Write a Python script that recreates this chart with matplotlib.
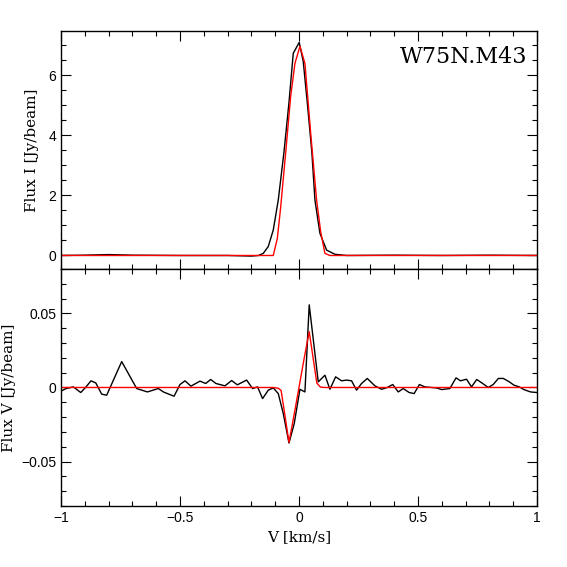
import numpy as np
import matplotlib
matplotlib.use('Agg')
import matplotlib.pyplot as plt
from matplotlib.ticker import MultipleLocator, FuncFormatter

# Stokes I spectrum (observed) and model, velocity in km/s
v_i_obs = [-1.0, -0.9, -0.8, -0.7, -0.5, -0.3, -0.2, -0.17, -0.15, -0.129, -0.108,
           -0.087, -0.063, -0.042, -0.024, 0.001, 0.018, 0.036, 0.054, 0.067, 0.088,
           0.116, 0.151, 0.2, 0.4, 0.6, 0.8, 1.0]
flux_i_obs = [0.0, 0.01, 0.03, 0.01, 0.0, 0.0, -0.02, 0.0, 0.07, 0.3, 0.85,
              1.85, 3.45, 5.1, 6.74, 7.1, 6.46, 5.0, 3.45, 1.85, 0.74,
              0.18, 0.04, 0.0, 0.01, 0.0, 0.01, 0.0]
v_i_mod = [-1.0, -0.108, -0.091, -0.077, -0.055, -0.035, -0.017, 0.004, 0.025,
           0.05, 0.074, 0.091, 0.109, 0.13, 1.0]
flux_i_mod = [0.0, 0.0, 0.57, 1.6, 3.5, 5.3, 6.4, 6.97, 6.4,
              4.0, 1.85, 0.8, 0.07, 0.0, 0.0]

# Stokes V spectrum (observed) and model
v_v_obs = [-1.0, -0.979, -0.948, -0.917, -0.895, -0.874, -0.854, -0.829, -0.808,
           -0.745, -0.682, -0.637, -0.591, -0.57, -0.525, -0.5, -0.479, -0.454,
           -0.416, -0.392, -0.371, -0.349, -0.311, -0.283, -0.259, -0.22, -0.195,
           -0.174, -0.153, -0.129, -0.108, -0.087, -0.066, -0.042, -0.02, 0.004,
           0.025, 0.043, 0.081, 0.109, 0.13, 0.154, 0.179, 0.2, 0.221, 0.242,
           0.263, 0.287, 0.319, 0.347, 0.371, 0.394, 0.417, 0.438, 0.463, 0.484,
           0.506, 0.529, 0.578, 0.6, 0.634, 0.66, 0.679, 0.704, 0.725, 0.747,
           0.772, 0.795, 0.816, 0.838, 0.859, 0.884, 0.903, 0.926, 0.945, 0.973, 1.0]
flux_v_obs = [-0.0025, -0.0007, 0.0004, -0.0034, 0.0004, 0.0045, 0.0031, -0.0045, -0.0052,
              0.0175, -0.0007, -0.003, -0.0007, -0.003, -0.0059, 0.002, 0.0045, 0.0009,
              0.0043, 0.0027, 0.0054, 0.0027, 0.0011, 0.0047, 0.0018, 0.005, -0.0007,
              0.0004, -0.0075, -0.0018, -0.0003, -0.0041, -0.0176, -0.0375, -0.0244, -0.0012,
              -0.003, 0.0558, 0.0038, 0.0083, -0.0012, 0.0072, 0.0045, 0.005, 0.0045, -0.0018,
              0.0027, 0.0061, 0.0011, -0.0012, 0.0, 0.002, -0.003, -0.0007, -0.0034, -0.0041,
              0.002, 0.0004, -0.0003, -0.0014, -0.0007, 0.0065, 0.0045, 0.0056, 0.0004, 0.0054,
              0.0027, 0.0, 0.002, 0.0061, 0.0061, 0.0038, 0.0016, 0.0004, -0.0014, -0.003, -0.0034]
v_v_mod = [-1.0, -0.108, -0.087, -0.075, -0.042, -0.02, 0.0, 0.021, 0.043,
           0.075, 0.09, 0.107, 1.0]
flux_v_mod = [0.0, 0.0, -0.0005, -0.002, -0.037, -0.018, 0.0, 0.019, 0.0377,
              0.003, 0.0003, 0.0, 0.0]

title = 'W75N.M43'

fig = plt.figure(figsize=(5.67, 5.67), dpi=100)
ax1 = fig.add_axes([0.1076, 0.5256, 0.8394, 0.4197])
ax2 = fig.add_axes([0.1076, 0.1076, 0.8394, 0.4180], sharex=ax1)

ax1.plot(v_i_obs, flux_i_obs, color='black', lw=1.0)
ax1.plot(v_i_mod, flux_i_mod, color='red', lw=1.0)
ax2.plot(v_v_obs, flux_v_obs, color='black', lw=1.0)
ax2.plot(v_v_mod, flux_v_mod, color='red', lw=1.0)

ax1.set_xlim(-1, 1)
ax1.set_ylim(-0.45, 7.48)
ax2.set_ylim(-0.08, 0.08)

fmt = FuncFormatter(lambda x, pos: ('%g' % x).replace('-', '\u2212'))
for ax in (ax1, ax2):
    ax.xaxis.set_major_locator(MultipleLocator(0.5))
    ax.xaxis.set_minor_locator(MultipleLocator(0.1))
    ax.tick_params(which='both', direction='in', top=True, right=True,
                   labelsize=10, width=0.8)
    ax.tick_params(which='major', length=7)
    ax.tick_params(which='minor', length=3.5)
    ax.yaxis.set_major_formatter(fmt)
    ax.xaxis.set_major_formatter(fmt)
    for s in ax.spines.values():
        s.set_linewidth(1.0)
    for lab in ax.get_xticklabels() + ax.get_yticklabels():
        lab.set_family('Liberation Sans')

ax1.yaxis.set_major_locator(MultipleLocator(2))
ax1.yaxis.set_minor_locator(MultipleLocator(0.5))
ax2.yaxis.set_major_locator(MultipleLocator(0.05))
ax2.yaxis.set_minor_locator(MultipleLocator(0.01))
ax1.tick_params(labelbottom=False)

ax1.set_ylabel('Flux I [Jy/beam]', family='DejaVu Serif', fontsize=11)
ax2.set_ylabel('Flux V [Jy/beam]', family='DejaVu Serif', fontsize=11)
ax1.yaxis.set_label_coords(-0.046, 0.5)
ax2.yaxis.set_label_coords(-0.094, 0.5)
ax2.set_xlabel('V [km/s]', family='DejaVu Serif', fontsize=11, labelpad=4)

ax1.text(0.979, 0.935, title, transform=ax1.transAxes, ha='right', va='top',
         family='DejaVu Serif', fontsize=16)

fig.savefig('out.png', dpi=100)
